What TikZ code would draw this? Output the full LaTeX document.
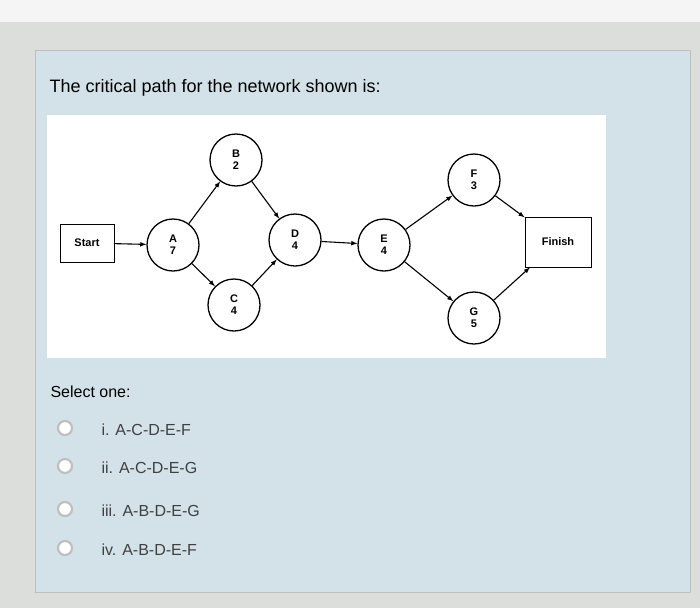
\documentclass[tikz,border=0pt]{standalone}
\usepackage{fontspec}
\setmainfont{Liberation Sans}
\definecolor{panel}{HTML}{D3E2E8}
\definecolor{bg}{HTML}{DCDEDC}
\begin{document}
\begin{tikzpicture}[x=1pt,y=-1pt,
  act/.style={circle,draw,line width=1.3pt,minimum size=52pt,inner sep=0pt,fill=white,font=\fontsize{11}{12}\selectfont\bfseries,align=center},
  term/.style={draw,line width=0.8pt,minimum width=54pt,minimum height=38pt,font=\fontsize{11}{12}\selectfont\bfseries,fill=white},
  arr/.style={-latex,line width=1.1pt},
  radio/.style={circle,draw=gray!50,line width=2.2pt,minimum size=14pt,inner sep=0pt,fill=white},
  opt/.style={anchor=west,font=\fontsize{16}{18}\selectfont,text=black!75}]
\useasboundingbox (0,0) rectangle (700,608);
\fill[bg] (0,0) rectangle (700,608);
\fill[gray!8] (0,0) rectangle (700,22);
\fill[panel] (35,50) rectangle (690,592);
\draw[gray!50] (35,50) rectangle (690,592);
\node[anchor=west,font=\fontsize{18}{20}\selectfont] (title) at (46,88) {The critical path for the network shown is:};
\fill[white] (47,115) rectangle (606,358);
\node[term] (start) at (87,243) {Start};
\node[term,minimum width=66pt,minimum height=50pt] (finish) at (558,242) {Finish};
\node[act] (A) at (173,245) {A\\7};
\node[act] (B) at (236,160) {B\\2};
\node[act] (C) at (234,305) {C\\4};
\node[act] (D) at (295,240) {D\\4};
\node[act] (E) at (384,245) {E\\4};
\node[act] (F) at (474,180) {F\\3};
\node[act] (G) at (474,318) {G\\5};
\draw[arr] (start) -- (A);
\draw[arr] (A) -- (B);
\draw[arr] (A) -- (C);
\draw[arr] (B) -- (D);
\draw[arr] (C) -- (D);
\draw[arr] (D) -- (E);
\draw[arr] (E) -- (F);
\draw[arr] (E) -- (G);
\draw[arr] (F) -- (finish);
\draw[arr] (G) -- (finish);
\node[anchor=west,font=\fontsize{16}{18}\selectfont] (sel) at (47,392) {Select one:};
\node[radio] (r1) at (65,428) {};
\node[radio] (r2) at (65,466) {};
\node[radio] (r3) at (65,509) {};
\node[radio] (r4) at (65,548) {};
\node[opt] (o1) at (98,430) {i. A-C-D-E-F};
\node[opt] (o2) at (98,468) {ii. A-C-D-E-G};
\node[opt] (o3) at (98,511) {iii. A-B-D-E-G};
\node[opt] (o4) at (98,550) {iv. A-B-D-E-F};
\end{tikzpicture}
\end{document}
